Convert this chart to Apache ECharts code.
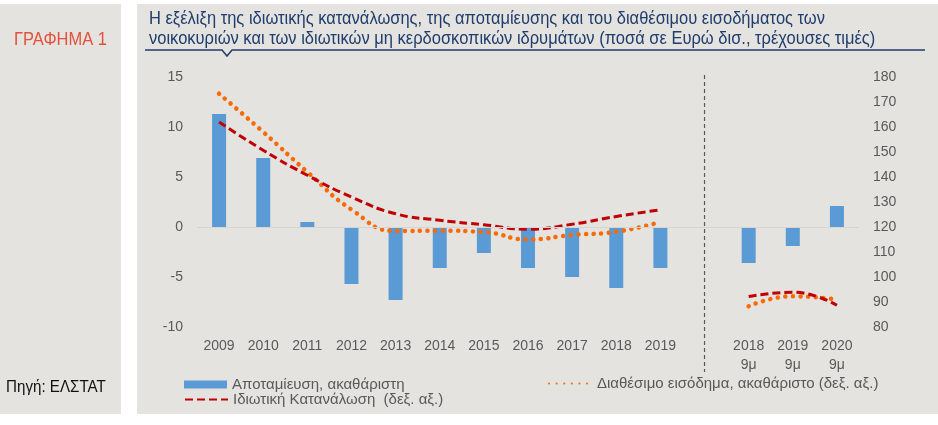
<!DOCTYPE html>
<html>
<head>
<meta charset="utf-8">
<script src="https://cdn.jsdelivr.net/npm/echarts@6/dist/echarts.min.js"></script>
<style>
  html, body { margin: 0; padding: 0; background: #ffffff; }
  #chart { width: 938px; height: 425px; }
</style>
</head>
<body>
<div id="chart"></div>
<script>
const categories = ['2009', '2010', '2011', '2012', '2013', '2014', '2015', '2016', '2017', '2018', '2019', '', '2018\n9μ', '2019\n9μ', '2020\n9μ'];
// αποταμίευση (αριστερός άξονας)
const savings = [11.3, 6.9, 0.5, -5.7, -7.3, -4.1, -2.6, -4.1, -5.0, -6.1, -4.1, null, -3.6, -1.9, 2.1];
// διαθέσιμο εισόδημα (δεξιός άξονας)
const income = [173.3, 158.0, 142.0, 127.0, 118.4, 118.5, 118.0, 115.0, 116.8, 118.1, 122.0, null, 88.3, 92.3, 91.0];
// ιδιωτική κατανάλωση (δεξιός άξονας)
const consumption = [162.0, 150.7, 140.7, 132.0, 125.3, 122.7, 120.9, 119.1, 121.1, 124.2, 126.9, null, 92.2, 93.9, 88.7];

const leftTicks = { min: -10, max: 15, interval: 5 };
const rightTicks = { min: 80, max: 180, interval: 10 };

const titleLine1 = 'Η εξέλιξη της ιδιωτικής κατανάλωσης, της αποταμίευσης και του διαθέσιμου εισοδήματος των';
const titleLine2 = 'νοικοκυριών και των ιδιωτικών μη κερδοσκοπικών ιδρυμάτων (ποσά σε Ευρώ δισ., τρέχουσες τιμές)';

const panelColor = '#e4e3df';
const sans = '"Liberation Sans", Arial, sans-serif';
const titleFont = '18.5px ' + sans;

// δεν υπάρχει Arial Narrow, οπότε στενεύουμε το κείμενο με scaleX
const ctx = document.createElement('canvas').getContext('2d');
ctx.font = titleFont;
const narrowScale = 676 / ctx.measureText(titleLine1).width;

const chart = echarts.init(document.getElementById('chart'), null, { renderer: 'canvas' });

const legendText = { color: '#595959', fontSize: 15, fontFamily: sans };

const option = {
    animation: false,
    backgroundColor: '#ffffff',
    textStyle: { fontFamily: sans },
    grid: { left: 197, right: 79, top: 77, bottom: 98, containLabel: false },
    xAxis: {
        type: 'category',
        data: categories,
        axisLine: { show: false },
        axisTick: { show: false },
        axisLabel: { color: '#595959', fontSize: 14, margin: 10, lineHeight: 19, interval: 0 }
    },
    yAxis: [
        {
            type: 'value', min: leftTicks.min, max: leftTicks.max, interval: leftTicks.interval,
            splitLine: { show: false }, axisLine: { show: false }, axisTick: { show: false },
            axisLabel: { color: '#595959', fontSize: 14, margin: 14 }
        },
        {
            type: 'value', min: rightTicks.min, max: rightTicks.max, interval: rightTicks.interval,
            splitLine: { show: false }, axisLine: { show: false }, axisTick: { show: false },
            axisLabel: { color: '#595959', fontSize: 14, margin: 14 }
        }
    ],
    legend: [
        {
            data: ['Αποταμίευση, ακαθάριστη'], left: 184, top: 377,
            itemWidth: 43, itemHeight: 8, icon: 'rect', itemGap: 0, padding: 0,
            textStyle: legendText
        },
        {
            data: ['Ιδιωτική Κατανάλωση  (δεξ. αξ.)'], left: 184, top: 392,
            itemWidth: 43, itemHeight: 14, itemGap: 0, padding: 0,
            itemStyle: { opacity: 0 },
            textStyle: legendText
        },
        {
            data: ['Διαθέσιμο εισόδημα, ακαθάριστο (δεξ. αξ.)'], left: 548, top: 376,
            itemWidth: 43, itemHeight: 14, itemGap: 0, padding: 0,
            itemStyle: { opacity: 0 },
            textStyle: legendText
        }
    ],
    series: [
        {
            name: 'Αποταμίευση, ακαθάριστη',
            type: 'bar',
            yAxisIndex: 0,
            data: savings,
            barWidth: 14,
            itemStyle: { color: '#5b9bd5' },
            markLine: {
                silent: true, symbol: 'none', label: { show: false },
                lineStyle: { color: '#d6d5d1', type: 'solid', width: 1 },
                data: [{ yAxis: 0 }]
            }
        },
        {
            name: 'Διαθέσιμο εισόδημα, ακαθάριστο (δεξ. αξ.)',
            type: 'line',
            yAxisIndex: 1,
            data: income,
            smooth: true,
            symbol: 'none',
            connectNulls: false,
            lineStyle: { color: '#f86a06', width: 4.5, type: [0.1, 7.5], cap: 'round' },
            itemStyle: { color: '#f86a06' }
        },
        {
            name: 'Ιδιωτική Κατανάλωση  (δεξ. αξ.)',
            type: 'line',
            yAxisIndex: 1,
            data: consumption,
            smooth: true,
            symbol: 'none',
            connectNulls: false,
            lineStyle: { color: '#c00000', width: 3, type: [8, 4] },
            itemStyle: { color: '#c00000' }
        }
    ],
    graphic: [
        { type: 'rect', z: -10, shape: { x: 0, y: 4, width: 121, height: 410 }, style: { fill: panelColor } },
        { type: 'rect', z: -10, shape: { x: 137, y: 4, width: 801, height: 410 }, style: { fill: panelColor } },
        {
            type: 'text', x: 14, y: 30, scaleX: narrowScale,
            style: { text: 'ΓΡΑΦΗΜΑ 1', fill: '#e4513b', font: '18.5px ' + sans }
        },
        {
            type: 'text', x: 6, y: 379, scaleX: narrowScale,
            style: { text: 'Πηγή: ΕΛΣΤΑΤ', fill: '#111111', font: '17px ' + sans }
        },
        {
            type: 'text', x: 149, y: 9, scaleX: narrowScale,
            style: { text: titleLine1 + '\n' + titleLine2, fill: '#1f3d6e', font: titleFont, lineHeight: 20 }
        },
        {
            type: 'polyline',
            shape: { points: [[145, 50], [222, 50], [227, 56], [232, 50], [925, 50]] },
            style: { stroke: '#1f3d6e', lineWidth: 1.5, fill: null }
        }
    ]
};

chart.setOption(option);

// κάθετη διακεκομμένη γραμμή που χωρίζει τα ετήσια από τα 9μηνα στοιχεία
const sepX = chart.convertToPixel({ xAxisIndex: 0 }, 11);
chart.setOption({
    graphic: option.graphic.concat([{
        type: 'line',
        shape: { x1: sepX, y1: 75, x2: sepX, y2: 372 },
        style: { stroke: '#595959', lineWidth: 1.2, lineDash: [4, 3] }
    }])
});
</script>
</body>
</html>
